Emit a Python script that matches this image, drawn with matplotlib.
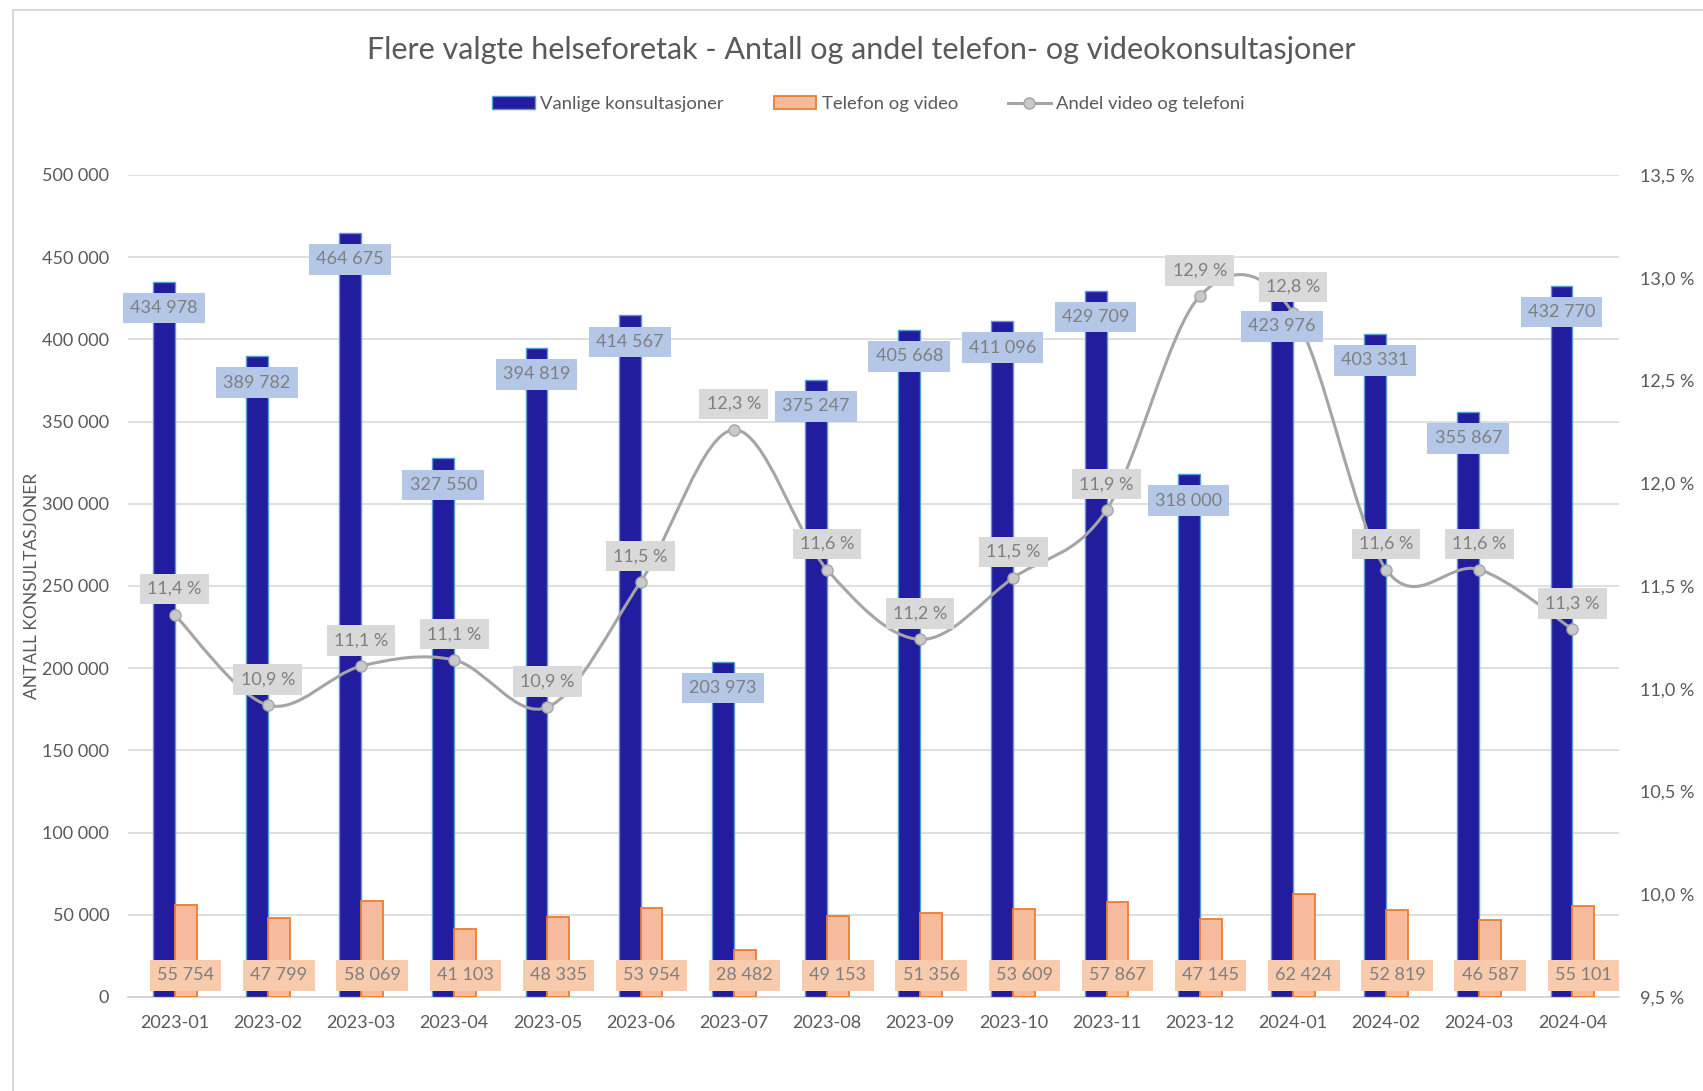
import numpy as np
import matplotlib
matplotlib.use("Agg")
import matplotlib.pyplot as plt
from matplotlib.path import Path
from matplotlib.patches import PathPatch, Patch, Rectangle
from matplotlib.lines import Line2D

plt.rcParams['font.family'] = ['Lato', 'DejaVu Sans']

# data
maaneder = ['2023-01', '2023-02', '2023-03', '2023-04', '2023-05', '2023-06', '2023-07', '2023-08',
            '2023-09', '2023-10', '2023-11', '2023-12', '2024-01', '2024-02', '2024-03', '2024-04']
vanlige = [434978, 389782, 464675, 327550, 394819, 414567, 203973, 375247,
           405668, 411096, 429709, 318000, 423976, 403331, 355867, 432770]
telefon_video = [55754, 47799, 58069, 41103, 48335, 53954, 28482, 49153,
                 51356, 53609, 57867, 47145, 62424, 52819, 46587, 55101]
andel = [11.36, 10.92, 11.11, 11.14, 10.91, 11.52, 12.26, 11.58,
         11.24, 11.54, 11.87, 12.91, 12.83, 11.58, 11.58, 11.29]

BLUE = '#221C9E'
BLUE_EDGE = '#5B9BD5'
ORANGE = '#F6BA9C'
ORANGE_EDGE = '#ED7D31'
GREY_LINE = '#A5A5A5'
TXT = '#595959'
LBL = '#7F7F7F'

fig = plt.figure(figsize=(17.03, 10.91), dpi=100)
ax = fig.add_axes([0.0752, 0.0862, 0.8755, 0.7534])
ax2 = ax.twinx()

# chart border (top and left visible)
fig.add_artist(Rectangle((13 / 1703, -0.1), 1.2, 1 - 10 / 1091 + 0.1, transform=fig.transFigure,
                         fill=False, ec='#D9D9D9', lw=1.5))

x = np.arange(len(maaneder))
w = 0.235
ax.bar(x - w / 2, vanlige, w, color=BLUE, edgecolor=BLUE_EDGE, linewidth=1, zorder=3)
ax.bar(x + w / 2, telefon_video, w, color=ORANGE, edgecolor=ORANGE_EDGE, linewidth=1.3, zorder=3)

ax.set_xlim(-0.5, len(maaneder) - 0.5)
ax.set_ylim(0, 500000)
ax.set_yticks(np.arange(0, 500001, 50000))
ax.set_yticklabels([f"{v:,}".replace(",", " ") for v in range(0, 500001, 50000)])
ax.set_xticks(x)
ax.set_xticklabels(maaneder)
ax.grid(axis='y', color='#D9D9D9', lw=1.2, zorder=0)
ax.set_axisbelow(True)
for s in ['top', 'left', 'right']:
    ax.spines[s].set_visible(False)
    ax2.spines[s].set_visible(False)
ax.spines['bottom'].set_color('#D0D0D0')
ax.spines['bottom'].set_linewidth(1.2)
ax2.spines['bottom'].set_visible(False)
ax.tick_params(axis='y', length=0, pad=13.5, labelsize=13, labelcolor=TXT)
ax.tick_params(axis='x', length=0, pad=13, labelsize=13, labelcolor=TXT)
ax.set_ylabel('ANTALL KONSULTASJONER', fontsize=12.5, color=TXT)
ax.yaxis.set_label_coords(-0.059, 0.5)

ax2.set_ylim(9.5, 13.5)
pct_ticks = np.arange(9.5, 13.51, 0.5)
ax2.set_yticks(pct_ticks)
ax2.set_yticklabels([f"{t:.1f} %".replace(".", ",") for t in pct_ticks])
ax2.tick_params(axis='y', length=0, pad=15, labelsize=13, labelcolor=TXT)

# smoothed line (Excel style bezier)
pts = list(zip(x, andel))
verts = [pts[0]]
codes = [Path.MOVETO]
for i in range(len(pts) - 1):
    p0 = np.array(pts[max(i - 1, 0)], float)
    p1 = np.array(pts[i], float)
    p2 = np.array(pts[i + 1], float)
    p3 = np.array(pts[min(i + 2, len(pts) - 1)], float)
    c1 = p1 + (p2 - p0) / 6
    c2 = p2 - (p3 - p1) / 6
    verts += [tuple(c1), tuple(c2), tuple(p2)]
    codes += [Path.CURVE4] * 3
ax2.add_patch(PathPatch(Path(verts, codes), fill=False, ec=GREY_LINE, lw=2.2, zorder=4))
ax2.plot(x, andel, 'o', ms=8, mfc='#C9C9C9', mec=GREY_LINE, mew=1, zorder=5)

# data labels
for i in range(len(x)):
    ax2.annotate(f"{vanlige[i]:,}".replace(",", " "), xy=(x[i] - w / 2, vanlige[i]), xycoords=ax.transData,
                 xytext=(0, -19), textcoords='offset points', ha='center', va='center',
                 fontsize=13, color=LBL, zorder=10,
                 bbox=dict(boxstyle='square,pad=0.4', fc='#B4C7E7', ec='none'))
    ax2.annotate(f"{telefon_video[i]:,}".replace(",", " "), xy=(x[i] + w / 2, 0), xycoords=ax.transData,
                 xytext=(0, 15.5), textcoords='offset points', ha='center', va='center',
                 fontsize=13, color=LBL, zorder=10,
                 bbox=dict(boxstyle='square,pad=0.4', fc='#F8CBAD', ec='none'))
    ax2.annotate(f"{andel[i]:.1f} %".replace(".", ","), xy=(x[i], andel[i]),
                 xytext=(0, 18.5), textcoords='offset points', ha='center', va='center',
                 fontsize=13, color=LBL, zorder=10,
                 bbox=dict(boxstyle='square,pad=0.4', fc='#D9D9D9', ec='none'))

fig.text(0.506, 1 - 50 / 1091, 'Flere valgte helseforetak - Antall og andel telefon- og videokonsultasjoner',
         ha='center', va='center', fontsize=22, color=TXT)

handles = [Patch(fc=BLUE, ec=BLUE_EDGE, lw=1),
           Patch(fc=ORANGE, ec=ORANGE_EDGE, lw=1.3),
           Line2D([], [], color=GREY_LINE, lw=2.2, marker='o', ms=8, mfc='#C9C9C9', mec=GREY_LINE)]
fig.legend(handles, ['Vanlige konsultasjoner', 'Telefon og video', 'Andel video og telefoni'],
           loc='center', bbox_to_anchor=(0.51, 1 - 104 / 1091), ncol=3, frameon=False,
           fontsize=13.3, labelcolor=TXT, handlelength=2.3, handleheight=0.7,
           handletextpad=0.3, columnspacing=2.7)

fig.savefig('out.png', dpi=100, facecolor='white')
